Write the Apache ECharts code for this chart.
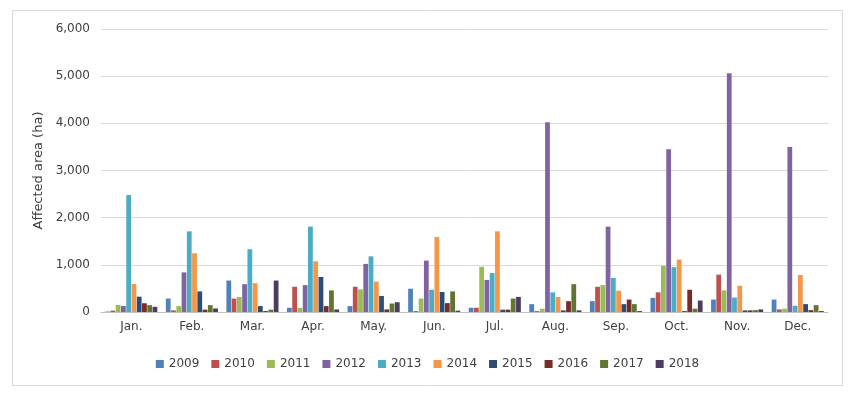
<!DOCTYPE html>
<html><head><meta charset="utf-8">
<script src="https://cdn.jsdelivr.net/npm/echarts@6/dist/echarts.min.js"></script>
<style>html,body{margin:0;padding:0;background:#fff}#c{width:855px;height:405px}</style>
</head><body><div id="c"></div>
<script>
const months = ['Jan.','Feb.','Mar.','Apr.','May.','Jun.','Jul.','Aug.','Sep.','Oct.','Nov.','Dec.'];
const years = ['2009','2010','2011','2012','2013','2014','2015','2016','2017','2018'];
const y2009 = [10, 285, 667, 90, 125, 493, 90, 167, 230, 300, 264, 264];
const y2010 = [30, 35, 285, 535, 535, 20, 90, 20, 535, 417, 792, 55];
const y2011 = [150, 125, 320, 90, 480, 285, 958, 70, 570, 980, 458, 70];
const y2012 = [127, 840, 590, 570, 1020, 1090, 680, 4025, 1810, 3450, 5060, 3500];
const y2013 = [2479, 1710, 1330, 1810, 1180, 472, 826, 417, 722, 951, 306, 132];
const y2014 = [595, 1245, 611, 1076, 646, 1590, 1710, 320, 451, 1111, 556, 785];
const y2015 = [325, 437, 125, 743, 340, 424, 50, 35, 167, 20, 35, 167];
const y2016 = [185, 50, 20, 125, 55, 188, 50, 230, 264, 472, 35, 40];
const y2017 = [145, 145, 50, 458, 180, 437, 285, 590, 167, 70, 40, 145];
const y2018 = [110, 75, 667, 55, 208, 28, 320, 35, 20, 243, 55, 20];
const yTicks = [0, 1000, 2000, 3000, 4000, 5000, 6000];
const seriesData = [y2009, y2010, y2011, y2012, y2013, y2014, y2015, y2016, y2017, y2018];
const colors = ['#4F81BD','#C0504D','#9BBB59','#8064A2','#4BACC6','#F79646','#2C4D75','#772C2A','#5F7530','#4D3B62'];
const font = 'DejaVu Sans, Verdana, sans-serif';
const chart = echarts.init(document.getElementById('c'));
chart.setOption({
  animation: false,
  color: colors,
  graphic: [{type:'rect', shape:{x:12.5,y:10.5,width:830,height:375}, style:{fill:'none', stroke:'#D9D9D9', lineWidth:1}, silent:true}],
  grid: {left: 101, right: 27, top: 29, bottom: 93, containLabel: false},
  legend: {
    data: years, bottom: 30, left: 'center', itemWidth: 8, itemHeight: 8, itemGap: 12,
    icon: 'rect', textStyle: {fontFamily: font, fontSize: 12, color: '#404040'}
  },
  xAxis: {
    type: 'category', data: months,
    axisLine: {lineStyle: {color: '#BFBFBF'}},
    axisTick: {show: false},
    axisLabel: {fontFamily: font, fontSize: 12, color: '#404040', margin: 9}
  },
  yAxis: {
    type: 'value', min: yTicks[0], max: yTicks[yTicks.length-1], interval: 1000,
    name: 'Affected area (ha)', nameLocation: 'middle', nameGap: 51,
    nameTextStyle: {fontFamily: font, fontSize: 13, color: '#404040'},
    axisLine: {show: false}, axisTick: {show: false},
    axisLabel: {fontFamily: font, fontSize: 12, color: '#404040', margin: 11,
      formatter: v => v.toLocaleString('en-US')},
    splitLine: {lineStyle: {color: '#D9D9D9'}}
  },
  series: years.map((y, i) => ({
    name: y, type: 'bar', data: seriesData[i],
    barGap: '10%', barCategoryGap: '14%'
  }))
});
</script></body></html>
